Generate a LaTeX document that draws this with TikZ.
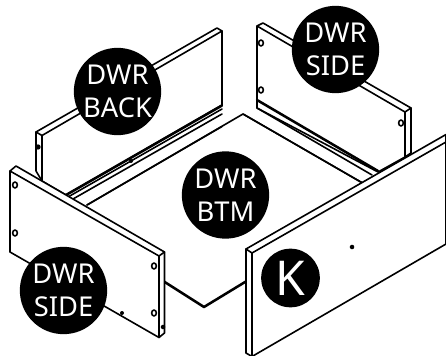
\documentclass[tikz,border=0pt]{standalone}
\usepackage{fontspec}
\setmainfont{Noto Sans}
\tikzset{
  x=0.75pt,y=-0.75pt,
  edge/.style={draw=black,line width=1.2pt,line join=round,line cap=round},
  thick edge/.style={draw=black,line width=1.9pt,line join=round,line cap=round},
  panel/.style={edge,fill=white},
  hole/.style={draw=black,line width=1.2pt,fill=white,ellipse,inner sep=0pt,minimum width=3.6pt,minimum height=4.4pt},
  pin/.style={circle,fill=black,inner sep=0pt,minimum size=3pt},
  badge/.style={circle,fill=black,text=white,inner sep=0pt,minimum size=65.5pt,align=center,
     font=\fontsize{20.5}{25}\selectfont},
  kbadge/.style={circle,fill=black,text=white,inner sep=0pt,minimum size=44pt,
     font=\fontsize{36}{40}\selectfont},
}
\usetikzlibrary{shapes.geometric}
\begin{document}
\begin{tikzpicture}
\useasboundingbox (0,0) rectangle (446,356);
\fill[white] (0,0) rectangle (446,356);
% floor
\draw[edge] (87,205) -- (243,114) -- (366,185);
\draw[thick edge] (160,279) -- (204,307) -- (250,279);
% back panel
\draw[panel] (36,132) -- (217,28) -- (222,31) -- (222,105) -- (66,195) -- (42,181) -- (36,171) -- cycle;
\draw[edge] (42,135.5) -- (222,31);
\draw[edge] (36,132) -- (42,135.5) -- (42,181);
\draw[thick edge] (222,105.5) -- (66,195);
\draw[edge] (222,109) -- (68,197);
\draw[edge] (222,114) -- (73,199);
\draw[edge] (87,205) -- (222,126.5);
\node[pin] (backpin) at (131,161) {};
\node[pin,minimum size=4pt] (backhole) at (38,147) {};
% right side panel
\draw[panel] (257,26) -- (263,23) -- (411,108) -- (411,153) -- (405,157) -- (378,172) -- (257,108) -- cycle;
\draw[edge] (257,26) -- (405,112) -- (411,108);
\draw[edge] (405,112) -- (405,157);
\draw[thick edge] (257,100) -- (378,171);
\draw[edge] (257,108) -- (372,175);
\draw[edge] (243,114) -- (366,185);
\node[hole] (rh1) at (261,43) {};
\node[hole] (rh2) at (261,90) {};
\node[hole] (rh3) at (401,123) {};
% left side panel
\draw[panel] (10,171) -- (16,166) -- (164.5,252) -- (164.5,333) -- (159,337.5) -- (10,252) -- cycle;
\draw[edge] (10,171) -- (159,256) -- (164.5,252);
\draw[edge] (159,256) -- (159,337.5);
\node[hole] (lh1) at (15,185) {};
\node[hole] (lh2) at (15,233) {};
\node[hole] (lh3) at (154,266) {};
\node[hole] (lh4) at (154,313) {};
\node[pin,minimum size=3.4pt] (lh5) at (163,327) {};
\node[pin] (lpin) at (122,313) {};
% front panel
\draw[panel] (446,134.5) -- (246,249) -- (246,353) -- (252,356.5) -- (446,244) -- cycle;
\draw[edge] (246,249) -- (252,253) -- (446,142);
\draw[edge] (252,253) -- (252,356.5);
\node[pin,minimum size=3.4pt] (fpin) at (352,247) {};
% badges
\node[badge] (back) at (117.5,91.5) {DWR\\BACK};
\node[badge] (rside) at (335.5,49.5) {DWR\\SIDE};
\node[badge] (lside) at (63.5,290.5) {DWR\\SIDE};
\node[badge] (btm) at (225.5,195) {DWR\\BTM};
\node[kbadge] (k) at (290.5,278) {K};
\end{tikzpicture}
\end{document}
